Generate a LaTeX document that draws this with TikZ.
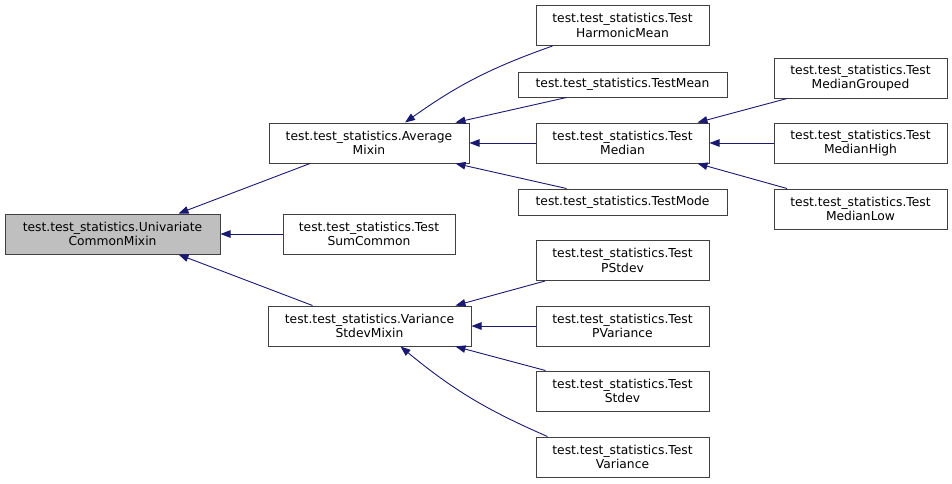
\documentclass[tikz,border=0pt]{standalone}
\usepackage{fontspec}
\setmainfont{DejaVu Sans}
\usetikzlibrary{arrows.meta}
\definecolor{edgeblue}{RGB}{25,25,112}
\definecolor{boxline}{RGB}{64,64,64}
\definecolor{selfill}{RGB}{191,191,191}
\tikzset{
  cls/.style={draw=boxline, line width=1pt, fill=white, inner sep=0pt, align=center,
    font=\fontsize{12.3}{14.5}\selectfont, minimum height=40pt, text=black},
  edge/.style={draw=edgeblue, line width=0.9pt, {Triangle[length=10pt,width=7.5pt,fill=edgeblue]}-},
}
\begin{document}
\begin{tikzpicture}[x=1pt,y=-1pt]
\useasboundingbox (0,0) rectangle (952,483);
\node[cls, fill=selfill, minimum width=215pt] (uni) at (112.5,234) {test.test\_statistics.Univariate\\CommonMixin};
\node[cls, minimum width=200pt] (avg) at (369,143) {test.test\_statistics.Average\\Mixin};
\node[cls, minimum width=172pt] (sum) at (369,234) {test.test\_statistics.Test\\SumCommon};
\node[cls, minimum width=203pt] (var) at (369.5,326) {test.test\_statistics.Variance\\StdevMixin};
\node[cls, minimum width=173pt] (harm) at (622.5,25.5) {test.test\_statistics.Test\\HarmonicMean};
\node[cls, minimum width=209pt, minimum height=25pt] (mean) at (622.5,84.5) {test.test\_statistics.TestMean};
\node[cls, minimum width=173pt] (median) at (622.5,143) {test.test\_statistics.Test\\Median};
\node[cls, minimum width=209pt, minimum height=26pt] (mode) at (622.5,202) {test.test\_statistics.TestMode};
\node[cls, minimum width=173pt] (mgr) at (860.5,78) {test.test\_statistics.Test\\MedianGrouped};
\node[cls, minimum width=173pt] (mhigh) at (860.5,143) {test.test\_statistics.Test\\MedianHigh};
\node[cls, minimum width=173pt] (mlow) at (860.5,209) {test.test\_statistics.Test\\MedianLow};
\node[cls, minimum width=173pt] (pstdev) at (622.5,260.5) {test.test\_statistics.Test\\PStdev};
\node[cls, minimum width=173pt] (pvar) at (622.5,326) {test.test\_statistics.Test\\PVariance};
\node[cls, minimum width=173pt] (stdev) at (622.5,391) {test.test\_statistics.Test\\Stdev};
\node[cls, minimum width=173pt] (variance) at (622.5,457) {test.test\_statistics.Test\\Variance};

\draw[edge] ([xshift=66]uni.north) -- ([xshift=-59]avg.south);
\draw[edge] (uni.east) -- (sum.west);
\draw[edge] ([xshift=66]uni.south) -- ([xshift=-57]var.north);
\draw[edge] ([xshift=36]avg.north) to[bend left=8] ([xshift=-70]harm.south);
\draw[edge] ([xshift=-14]avg.north east) -- ([xshift=-56]mean.south);
\draw[edge] (avg.east) -- (median.west);
\draw[edge] ([xshift=-14]avg.south east) -- ([xshift=-56]mode.north);
\draw[edge] ([xshift=-12]median.north east) -- ([xshift=-73.5]mgr.south);
\draw[edge] (median.east) -- (mhigh.west);
\draw[edge] ([xshift=-12]median.south east) -- ([xshift=-73.5]mlow.north);
\draw[edge] ([xshift=-16]var.north east) -- ([xshift=-77.5]pstdev.south);
\draw[edge] (var.east) -- (pvar.west);
\draw[edge] ([xshift=-16]var.south east) -- ([xshift=-77]stdev.north);
\draw[edge] ([xshift=31]var.south) to[bend right=8] ([xshift=-75]variance.north);
\end{tikzpicture}
\end{document}
